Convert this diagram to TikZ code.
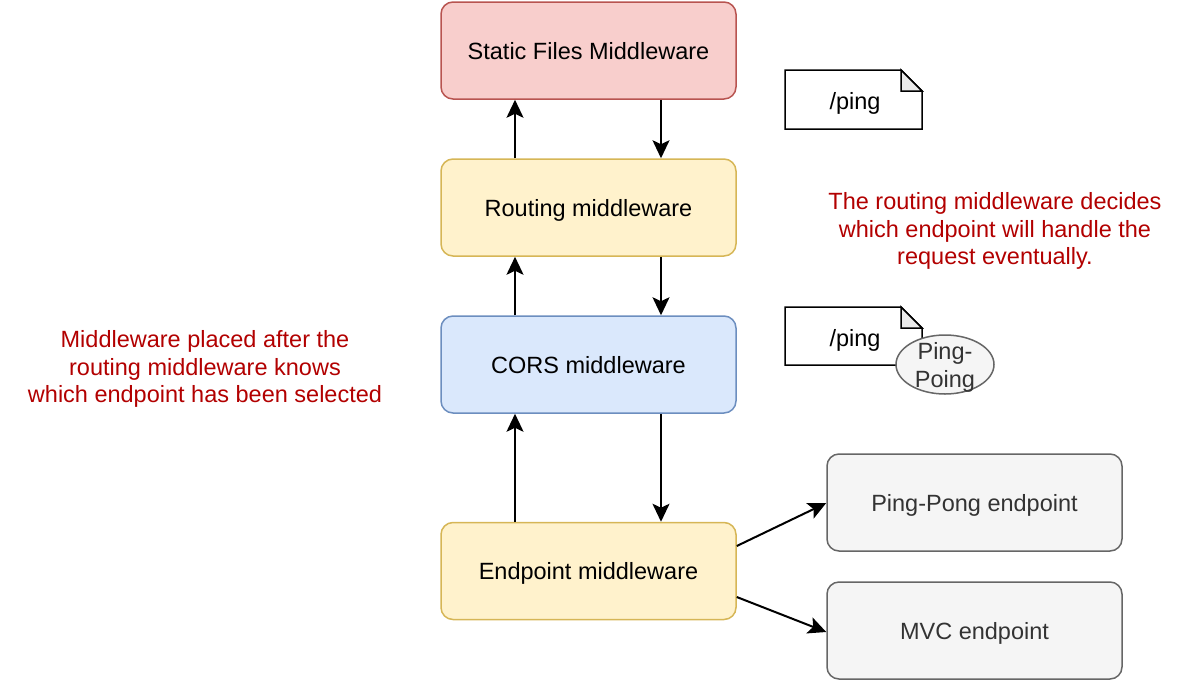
\documentclass[tikz,border=0pt]{standalone}
\usepackage{fontspec}
\setmainfont{Liberation Sans}
\usetikzlibrary{arrows.meta,shapes.geometric}
\definecolor{redfill}{HTML}{F8CECC}
\definecolor{redline}{HTML}{B85450}
\definecolor{yelfill}{HTML}{FFF2CC}
\definecolor{yelline}{HTML}{D6B656}
\definecolor{bluefill}{HTML}{DAE8FC}
\definecolor{blueline}{HTML}{6C8EBF}
\definecolor{greyfill}{HTML}{F5F5F5}
\definecolor{greyline}{HTML}{666666}
\definecolor{greytext}{HTML}{333333}
\definecolor{notered}{HTML}{B20000}

\begin{document}
\begin{tikzpicture}[x=1pt, y=-1pt,
    every node/.style={font=\fontsize{23.5}{27.6}\selectfont},
    mw/.style={rectangle, rounded corners=12pt, draw, line width=1.5pt, minimum width=295pt, minimum height=97pt, inner sep=0pt, text depth=0pt},
    ep/.style={mw, fill=greyfill, draw=greyline, text=greytext},
    note/.style={text=notered, align=center},
    doc/.style={draw, line width=1.5pt, fill=white},
    arr/.style={-{Stealth[length=18pt, width=17pt, inset=4pt]}, line width=2pt}]
    \useasboundingbox (0,0) rectangle (1200,681);

    % middleware pipeline
    \node[mw, fill=redfill, draw=redline] (stat) at (588.5,50.5) {Static Files Middleware};
    \node[mw, fill=yelfill, draw=yelline] (rout) at (588.5,207.5) {Routing middleware};
    \node[mw, fill=bluefill, draw=blueline] (cors) at (588.5,364.5) {CORS middleware};
    \node[mw, fill=yelfill, draw=yelline] (endp) at (588.5,571) {Endpoint middleware};

    % endpoints
    \node[ep] (ping) at (974.5,502.5) {Ping-Pong endpoint};
    \node[ep] (mvc) at (974.5,630.5) {MVC endpoint};

    \coordinate (upx) at (515,0);
    \coordinate (dnx) at (661,0);

    \draw[arr] (rout.north -| upx) -- (stat.south -| upx);
    \draw[arr] (stat.south -| dnx) -- (rout.north -| dnx);
    \draw[arr] (cors.north -| upx) -- (rout.south -| upx);
    \draw[arr] (rout.south -| dnx) -- (cors.north -| dnx);
    \draw[arr] (endp.north -| upx) -- (cors.south -| upx);
    \draw[arr] (cors.south -| dnx) -- (endp.north -| dnx);

    \draw[arr] (endp.east |- 0,546) -- (ping.west |- 0,503);
    \draw[arr] (endp.east |- 0,597) -- (mvc.west |- 0,632);

    % request documents
    \draw[doc] (785,70) -- (901,70) -- (922,91) -- (922,129) -- (785,129) -- cycle;
    \draw[line width=1.5pt, fill=black!8] (901,70) -- (901,91) -- (922,91) -- cycle;
    \node (doca) at (855,103) {/ping};

    \draw[doc] (785,307) -- (901,307) -- (922,328) -- (922,365) -- (785,365) -- cycle;
    \draw[line width=1.5pt, fill=black!8] (901,307) -- (901,328) -- (922,328) -- cycle;
    \node (docb) at (855,340) {/ping};
    \node[ellipse, draw=greyline, fill=greyfill, line width=1.5pt, minimum width=98pt, minimum height=59pt, inner sep=0pt] (meta) at (945,364.5) {};
    \node[text=greytext, align=center] (metatxt) at (945,367.5) {Ping-\\Poing};

    % notes
    \node[note] (rnote) at (995,231) {The routing middleware decides\\which endpoint will handle the\\request eventually.};
    \node[note] (mnote) at (205,369) {Middleware placed after the\\routing middleware knows\\which endpoint has been selected};
\end{tikzpicture}
\end{document}
